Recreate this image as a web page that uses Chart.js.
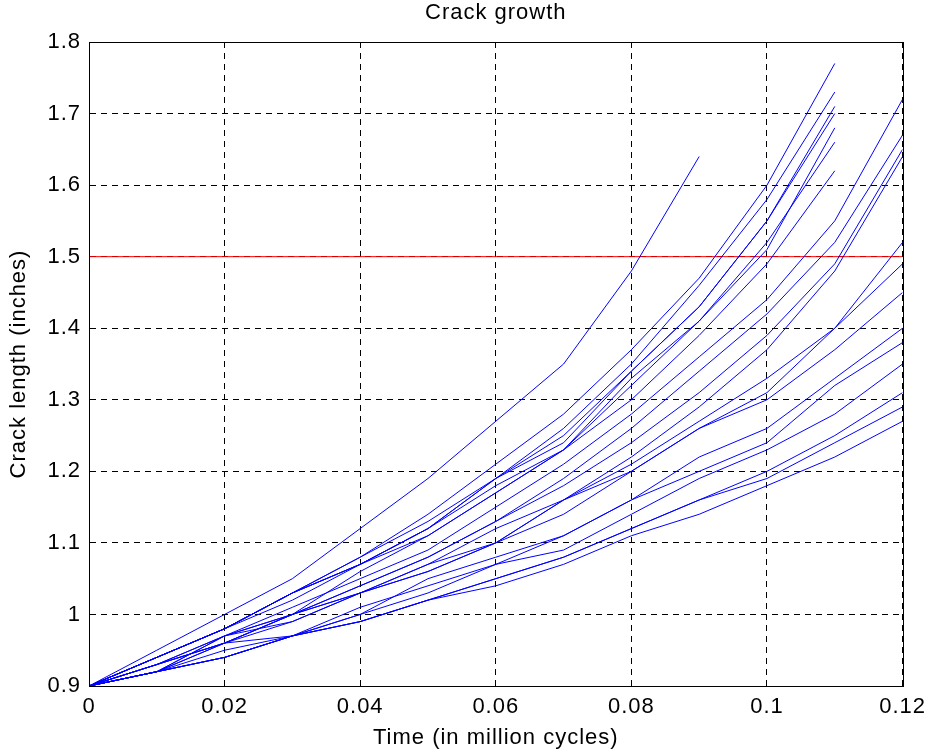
<!DOCTYPE html>
<html><head><meta charset="utf-8">
<script src="https://cdn.jsdelivr.net/npm/chart.js@4/dist/chart.umd.min.js"></script>
<style>html,body{margin:0;padding:0;background:#fff}</style>
</head><body>
<canvas id="c" width="932" height="753"></canvas>
<script>
const cycles = [0, 0.01, 0.02, 0.03, 0.04, 0.05, 0.06, 0.07, 0.08, 0.09, 0.10, 0.11, 0.12];
const path1  = [0.90,0.95,1.00,1.05,1.12,1.19,1.27,1.35,1.48,1.64];
const path2  = [0.90,0.94,0.98,1.03,1.08,1.14,1.21,1.28,1.37,1.47,1.60,1.77];
const path3  = [0.90,0.94,0.98,1.03,1.08,1.13,1.19,1.26,1.35,1.46,1.58,1.73];
const path4  = [0.90,0.94,0.98,1.03,1.07,1.12,1.19,1.25,1.34,1.43,1.55,1.71];
const path5  = [0.90,0.94,0.98,1.03,1.07,1.12,1.19,1.24,1.34,1.43,1.55,1.70];
const path6  = [0.90,0.94,0.98,1.03,1.07,1.12,1.18,1.23,1.33,1.41,1.51,1.68];
const path7  = [0.90,0.94,0.98,1.02,1.07,1.11,1.17,1.23,1.32,1.41,1.52,1.66];
const path8  = [0.90,0.93,0.97,1.00,1.06,1.11,1.17,1.23,1.30,1.39,1.49,1.62];
const path9  = [0.90,0.92,0.97,1.01,1.05,1.09,1.15,1.21,1.28,1.36,1.44,1.55,1.72];
const path10 = [0.90,0.92,0.96,1.00,1.04,1.08,1.13,1.19,1.26,1.34,1.42,1.52,1.67];
const path11 = [0.90,0.93,0.96,1.00,1.04,1.08,1.13,1.18,1.24,1.31,1.39,1.49,1.65];
const path12 = [0.90,0.93,0.97,1.00,1.03,1.07,1.10,1.16,1.22,1.29,1.37,1.48,1.64];
const path13 = [0.90,0.92,0.97,0.99,1.03,1.06,1.10,1.14,1.20,1.26,1.31,1.40,1.52];
const path14 = [0.90,0.93,0.96,1.00,1.03,1.07,1.12,1.16,1.20,1.26,1.30,1.37,1.45];
const path15 = [0.90,0.92,0.96,0.99,1.03,1.06,1.10,1.16,1.21,1.27,1.33,1.40,1.49];
const path16 = [0.90,0.92,0.95,0.97,1.00,1.03,1.07,1.11,1.16,1.22,1.26,1.33,1.40];
const path17 = [0.90,0.93,0.96,0.97,1.00,1.05,1.08,1.11,1.16,1.20,1.24,1.32,1.38];
const path18 = [0.90,0.92,0.94,0.97,1.01,1.04,1.07,1.09,1.14,1.19,1.23,1.28,1.35];
const path19 = [0.90,0.92,0.94,0.97,0.99,1.02,1.05,1.08,1.12,1.16,1.20,1.25,1.31];
const path20 = [0.90,0.92,0.94,0.97,0.99,1.02,1.05,1.08,1.12,1.16,1.19,1.24,1.29];
const path21 = [0.90,0.92,0.94,0.97,0.99,1.02,1.04,1.07,1.11,1.14,1.18,1.22,1.27];
const thresholdX = [0, 0.12];
const thresholdY = [1.5, 1.5];
const xTicks = [0, 0.02, 0.04, 0.06, 0.08, 0.1, 0.12];
const yTicks = [0.9, 1, 1.1, 1.2, 1.3, 1.4, 1.5, 1.6, 1.7, 1.8];

const paths = [path1,path2,path3,path4,path5,path6,path7,path8,path9,path10,path11,
  path12,path13,path14,path15,path16,path17,path18,path19,path20,path21];

const datasets = [{
  data: thresholdX.map((x, i) => ({x, y: thresholdY[i]})),
  borderColor: '#ff0000', borderWidth: 1, pointRadius: 0, order: 100
}].concat(paths.map(p => ({
  data: p.map((y, i) => ({x: cycles[i], y})),
  borderColor: '#0000ff', borderWidth: 1, pointRadius: 0, tension: 0
})));

const FONT = "'Liberation Sans', Arial, Helvetica, sans-serif";

const boxPlugin = {
  id: 'box',
  beforeDraw(chart) { chart.ctx.letterSpacing = '1px'; },
  afterDraw(chart) {
    const {ctx, chartArea: a} = chart;
    ctx.save();
    ctx.strokeStyle = '#000';
    ctx.lineWidth = 1;
    ctx.setLineDash([]);
    ctx.strokeRect(Math.round(a.left) + 0.5, Math.round(a.top) + 0.5,
      Math.round(a.right - a.left), Math.round(a.bottom - a.top));
    ctx.restore();
  }
};

new Chart(document.getElementById('c'), {
  type: 'line',
  data: { datasets },
  plugins: [boxPlugin],
  options: {
    responsive: false,
    animation: false,
    layout: { padding: { left: 0, right: 27, top: 0, bottom: 0 } },
    plugins: {
      legend: { display: false },
      tooltip: { enabled: false },
      title: {
        display: true, text: 'Crack growth', color: '#000', fullSize: false,
        font: { family: FONT, size: 22, weight: 'normal' },
        padding: { top: 0, bottom: 15.6 }
      }
    },
    scales: {
      x: {
        type: 'linear', min: 0, max: 0.12,
        afterBuildTicks: s => { s.ticks = xTicks.map(v => ({value: v})); },
        afterFit: s => { s.height = 67; },
        ticks: { color: '#000', padding: 8, maxRotation: 0, autoSkip: false,
          font: { family: FONT, size: 22 }, callback: v => String(v) },
        grid: { color: '#000', lineWidth: 1, drawTicks: false },
        border: { display: true, color: '#000', dash: [6, 5] },
        title: { display: true, text: 'Time (in million cycles)', color: '#000',
          font: { family: FONT, size: 22 }, padding: { top: 0, bottom: 2 } }
      },
      y: {
        type: 'linear', min: 0.9, max: 1.8,
        afterBuildTicks: s => { s.ticks = yTicks.map(v => ({value: v})); },
        afterFit: s => { s.width = 89; },
        ticks: { color: '#000', padding: 8, autoSkip: false,
          font: { family: FONT, size: 22 }, callback: v => String(v) },
        grid: { color: '#000', lineWidth: 1, drawTicks: false },
        border: { display: true, color: '#000', dash: [6, 5] },
        title: { display: true, text: 'Crack length (inches)', color: '#000',
          font: { family: FONT, size: 22 }, padding: { top: 6, bottom: 0 } }
      }
    }
  }
});
</script>
</body></html>
